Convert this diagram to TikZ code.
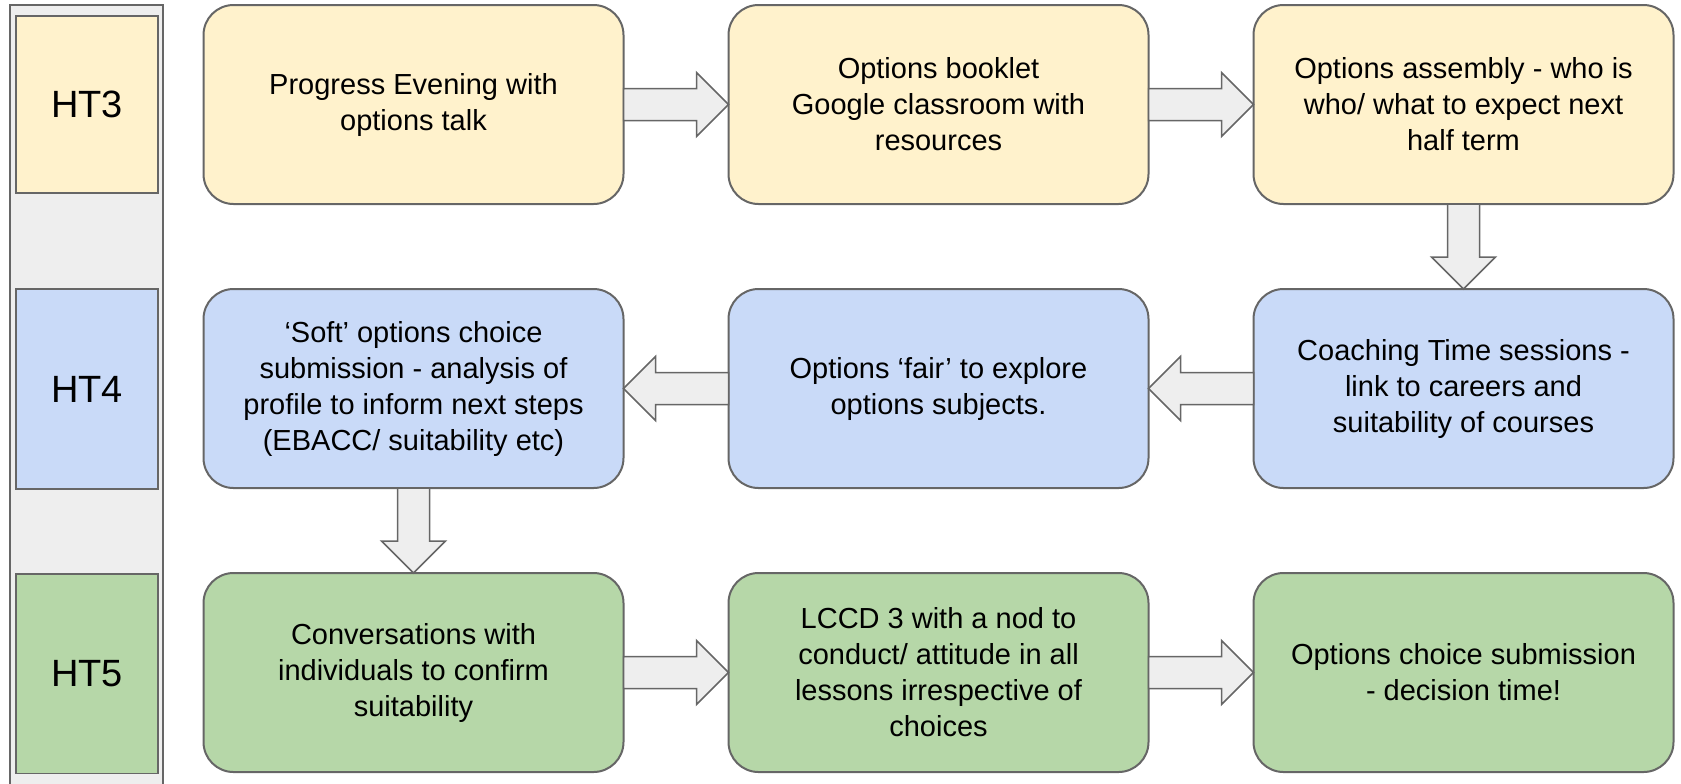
\documentclass[tikz,border=0pt]{standalone}
\usepackage{fontspec}
\setmainfont{Liberation Sans}
\usetikzlibrary{positioning,calc}

\definecolor{lineGrey}{HTML}{666666}
\definecolor{arrowGrey}{HTML}{EEEEEE}
\definecolor{htYellow}{HTML}{FFF2CC}
\definecolor{htBlue}{HTML}{C9DAF8}
\definecolor{htGreen}{HTML}{B6D7A8}

\tikzset{
  stage/.style={draw=lineGrey, line width=1pt, rounded corners=15pt, outer sep=0pt,
    minimum width=210pt, minimum height=99.5pt, align=center,
    font=\fontsize{14.5pt}{18pt}\selectfont},
  term/.style={draw=lineGrey, line width=0.75pt, minimum width=71pt, align=center,
    font=\fontsize{19pt}{23pt}\selectfont},
  flow/.style={draw=lineGrey, fill=arrowGrey, line width=0.75pt, line join=miter}
}

\newcommand\flowarrow[2]{%
  \path ($(#2)!16pt!(#1)$) coordinate (head);
  \draw[flow] ($(#1)!8pt!90:(#2)$) -- ($(head)!8pt!90:(#2)$) -- ($(head)!16pt!90:(#2)$)
    -- (#2) -- ($(head)!16pt!-90:(#2)$) -- ($(head)!8pt!-90:(#2)$)
    -- ($(#1)!8pt!-90:(#2)$) -- cycle;}

\begin{document}
\begin{tikzpicture}[x=0.5pt, y=-0.5pt, node distance=42.5pt and 52.5pt]
    \useasboundingbox (0,0) rectangle (1681,783);
    \draw[draw=lineGrey, fill=arrowGrey, line width=0.75pt] (10,5) rectangle (163,790);
    \node[term, fill=htYellow, minimum height=88.5pt] (ht3) at (87,104.5) {HT3};
    \node[term, fill=htBlue, minimum height=100pt] (ht4) at (87,389) {HT4};
    \node[term, fill=htGreen, minimum height=99.75pt] (ht5) at (87,673.5) {HT5};

    \node[stage, fill=htYellow] (evening) at (413.5,104.5) {Progress Evening with\\options talk};
    \node[stage, fill=htYellow, right=of evening] (booklet) {Options booklet\\Google classroom with\\resources};
    \node[stage, fill=htYellow, right=of booklet] (assembly) {Options assembly - who is\\who/ what to expect next\\half term};
    \node[stage, fill=htBlue, below=of assembly] (coaching) {Coaching Time sessions -\\link to careers and\\suitability of courses};
    \node[stage, fill=htBlue, left=of coaching] (fair) {Options ‘fair’ to explore\\options subjects.};
    \node[stage, fill=htBlue, left=of fair] (soft) {‘Soft’ options choice\\submission - analysis of\\profile to inform next steps\\(EBACC/ suitability etc)};
    \node[stage, fill=htGreen, below=of soft] (conversations) {Conversations with\\individuals to confirm\\suitability};
    \node[stage, fill=htGreen, right=of conversations] (lccd) {LCCD 3 with a nod to\\conduct/ attitude in all\\lessons irrespective of\\choices};
    \node[stage, fill=htGreen, right=of lccd] (submission) {Options choice submission\\- decision time!};

    \flowarrow{evening.east}{booklet.west}
    \flowarrow{booklet.east}{assembly.west}
    \flowarrow{assembly.south}{coaching.north}
    \flowarrow{coaching.west}{fair.east}
    \flowarrow{fair.west}{soft.east}
    \flowarrow{soft.south}{conversations.north}
    \flowarrow{conversations.east}{lccd.west}
    \flowarrow{lccd.east}{submission.west}
\end{tikzpicture}
\end{document}
